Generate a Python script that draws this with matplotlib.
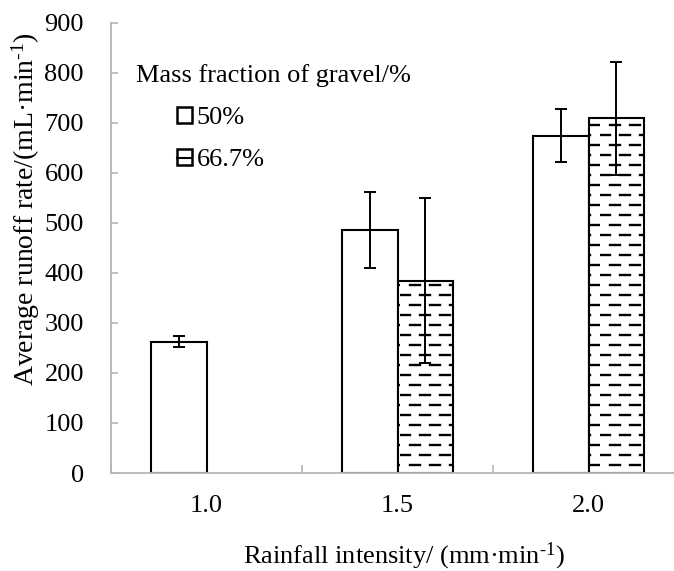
import numpy as np
import matplotlib
matplotlib.use("Agg")
import matplotlib.pyplot as plt
from matplotlib import hatch as mhatch
from matplotlib.path import Path
from matplotlib.patches import Patch
from matplotlib.lines import Line2D
from matplotlib.legend_handler import HandlerTuple

# ---- data ----
categories = ["1.0", "1.5", "2.0"]
series_names = ["50%", "66.7%"]
runoff_50 = [262, 485, 674]
err_50 = [11, 76, 53]
runoff_667 = [np.nan, 384, 709]
err_667 = [np.nan, 165, 113]

legend_title = "Mass fraction of gravel/%"
ylabel = "Average runoff rate/(mL·min$\\mathregular{^{\u2010 1}}$)"
xlabel = "Rainfall intensity/ (mm·min$\\mathregular{^{\u2010 1}}$)"


# ---- custom staggered dash hatch (replaces the '*' star hatch) ----
class DashHatch(mhatch.HatchPatternBase):
    rows = 10
    cols = 5

    def __init__(self, hatch, density):
        self.on = hatch.count('*') > 0
        self.num_vertices = self.rows * self.cols * 2 if self.on else 0

    def set_vertices_and_codes(self, vertices, codes):
        k = 0
        for r in range(self.rows):
            y = (r + 0.5) / self.rows
            off = 0.0 if r % 2 == 0 else 0.5 / self.cols
            for c in range(self.cols):
                x0 = c / self.cols + off
                x1 = x0 + 0.5 / self.cols
                vertices[k] = (x0, y)
                vertices[k + 1] = (x1, y)
                codes[k] = Path.MOVETO
                codes[k + 1] = Path.LINETO
                k += 2


mhatch._hatch_types = [t for t in mhatch._hatch_types if t is not mhatch.Stars] + [DashHatch]

plt.rcParams['font.family'] = ['Liberation Serif', 'DejaVu Serif']
plt.rcParams['mathtext.fontset'] = 'custom'
plt.rcParams['mathtext.rm'] = 'Liberation Serif'
plt.rcParams['hatch.linewidth'] = 1.7
plt.rcParams['hatch.color'] = 'black'

FS = 19
W, H = 674, 571
fig = plt.figure(figsize=(W / 100, H / 100), dpi=100)

ax_left, ax_right_px = 111, 111 + 3 * 191
ax_bottom, ax_top = 473, 22.5
ax = fig.add_axes([ax_left / W, 1 - ax_bottom / H,
                   (ax_right_px - ax_left) / W, (ax_bottom - ax_top) / H])

x = np.arange(len(categories))
bw = 0.293
ax.bar(x - bw / 2, runoff_50, bw, color='white', edgecolor='black', linewidth=1.5, zorder=2)
ax.bar(x + bw / 2, runoff_667, bw, color='white', edgecolor='black', linewidth=1.5,
       hatch='*', zorder=2)
ax.errorbar(x - bw / 2, runoff_50, yerr=err_50, fmt='none', ecolor='black',
            elinewidth=1.4, capsize=4.5, capthick=1.4, zorder=3)
ax.errorbar(x + bw / 2, runoff_667, yerr=err_667, fmt='none', ecolor='black',
            elinewidth=1.4, capsize=4.5, capthick=1.4, zorder=3)

ax.set_xlim(-0.5, len(categories) - 0.5)
ax.set_ylim(0, 900)
ax.set_yticks(np.arange(0, 901, 100))

for s in ['top', 'right']:
    ax.spines[s].set_visible(False)
for s in ['left', 'bottom']:
    ax.spines[s].set_color('#b5b5b5')
    ax.spines[s].set_linewidth(1.3)

ax.tick_params(axis='y', direction='in', length=5, width=1.2, color='#b5b5b5',
               labelsize=FS, pad=19.5)
ax.set_xticks(np.arange(-0.5, len(categories)), minor=False)
ax.set_xticklabels([])
ax.set_xticks(x, minor=True)
ax.set_xticklabels(categories, minor=True)
ax.tick_params(axis='x', which='major', direction='in', length=6, width=1.2, color='#b5b5b5')
ax.tick_params(axis='x', which='minor', length=0, labelsize=FS, pad=16)

fig.text(26 / W, 1 - 209 / H, ylabel, rotation=90, ha='center', va='center', fontsize=20)
fig.text(404 / W, 1 - 563 / H, xlabel, ha='center', va='baseline', fontsize=FS)

# legend
fig.text(136 / W, 1 - 76 / H, legend_title, ha='left', va='center', fontsize=FS)
h50 = Patch(facecolor='white', edgecolor='black', linewidth=1.8)
h667 = (Patch(facecolor='white', edgecolor='black', linewidth=1.8),
        Line2D([], [], color='black', linewidth=1.5))
leg = ax.legend([h50, h667], series_names, loc='upper left',
                bbox_to_anchor=(177 / W, 1 - 107 / H), bbox_transform=fig.transFigure,
                frameon=False, fontsize=FS, handlelength=0.55, handleheight=0.55,
                handletextpad=0.2, labelspacing=0.75, borderpad=0, borderaxespad=0,
                handler_map={tuple: HandlerTuple(ndivide=1, pad=0)})

fig.savefig("out.png", dpi=100)
